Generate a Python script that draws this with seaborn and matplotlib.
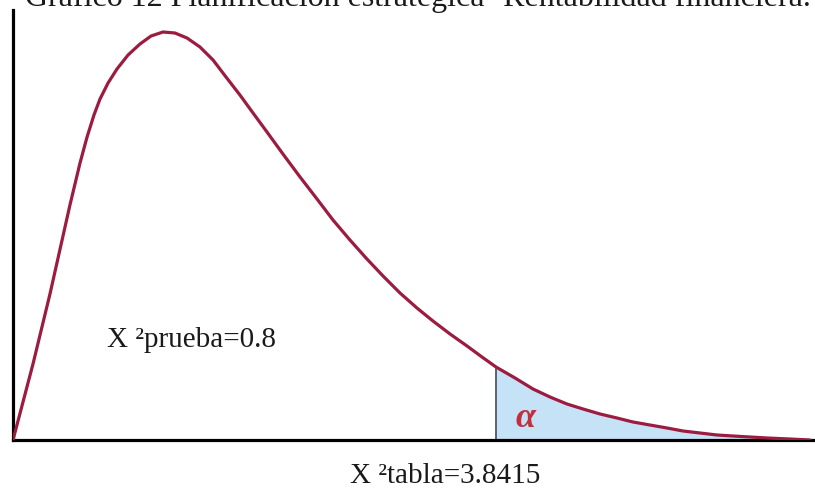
import matplotlib
matplotlib.use('Agg')
import matplotlib.pyplot as plt
import seaborn as sns
import numpy as np

# valores (eje x en unidades de chi-cuadrado, eje y densidad relativa)
curve_x = [0.000, 0.159, 0.294, 0.453, 0.533, 0.589, 0.644, 0.692, 0.756, 0.827,
           0.915, 1.010, 1.098, 1.193, 1.288, 1.384, 1.487, 1.591, 1.694, 1.805,
           1.909, 2.020, 2.147, 2.283, 2.418, 2.545, 2.680, 2.815, 2.943, 3.078,
           3.213, 3.340, 3.476, 3.611, 3.730, 3.8415, 3.993, 4.136, 4.271, 4.406,
           4.534, 4.669, 4.804, 4.931, 5.066, 5.202, 5.329, 5.464, 5.599, 5.727,
           5.862, 5.997, 6.180, 6.339]
curve_y = [0.000, 0.076, 0.146, 0.235, 0.277, 0.303, 0.325, 0.341, 0.357, 0.371,
           0.385, 0.396, 0.404, 0.408, 0.407, 0.402, 0.393, 0.380, 0.363, 0.345,
           0.327, 0.308, 0.286, 0.263, 0.241, 0.220, 0.200, 0.181, 0.164, 0.147,
           0.132, 0.119, 0.106, 0.094, 0.083, 0.073, 0.062, 0.051, 0.043, 0.036,
           0.031, 0.026, 0.022, 0.018, 0.015, 0.012, 0.009, 0.007, 0.005, 0.004,
           0.003, 0.002, 0.001, 0.000]

chi_prueba = 0.8
chi_tabla = 3.8415

title = "Gráfico 12 Planificación estratégica- Rentabilidad financiera."
label_prueba = "X \u00b2prueba=" + str(chi_prueba)
label_tabla = "X \u00b2tabla=" + str(chi_tabla)

sns.set_style('white')
plt.rcParams['font.family'] = ['Liberation Serif', 'DejaVu Serif']

fig = plt.figure(figsize=(8.15, 4.88), dpi=100)
ax = fig.add_axes([13 / 815, 48 / 488, 802 / 815, 430 / 488])

curve_col = '#9c1c3f'
sns.lineplot(x=curve_x, y=curve_y, sort=False, color=curve_col, linewidth=2.3, ax=ax,
             zorder=3, solid_joinstyle='round', solid_capstyle='round')

# zona de rechazo (alpha)
cx = np.array(curve_x)
cy = np.array(curve_y)
mask = cx >= chi_tabla
ax.fill_between(cx[mask], 0, cy[mask], color='#c6e2f7', zorder=1, linewidth=0)
ax.vlines(chi_tabla, 0, cy[mask][0], color='#3d4b5c', linewidth=1.2, zorder=2)

ax.set_xlim(0, 802 * chi_tabla / 483)
ax.set_ylim(0, 0.430)
ax.set_xticks([])
ax.set_yticks([])
ax.set_xlabel('')
ax.set_ylabel('')
for side in ['top', 'right']:
    ax.spines[side].set_visible(False)
for side in ['left', 'bottom']:
    ax.spines[side].set_color('black')
    ax.spines[side].set_linewidth(2.3)

ax.text(4.0, 0.013, '\u03b1', color='#c2303f', fontsize=26,
        fontstyle='italic', fontweight='bold', va='baseline')

fig.text(107 / 815, 141 / 488, label_prueba, fontsize=21, va='baseline', color='#1a1a1a')
fig.text(350 / 815, 5 / 488, label_tabla, fontsize=21, va='baseline', color='#1a1a1a')
fig.text(25 / 815, 482 / 488, title, fontsize=23, va='baseline', color='#1a1a1a')

plt.savefig('out.png', dpi=100)
